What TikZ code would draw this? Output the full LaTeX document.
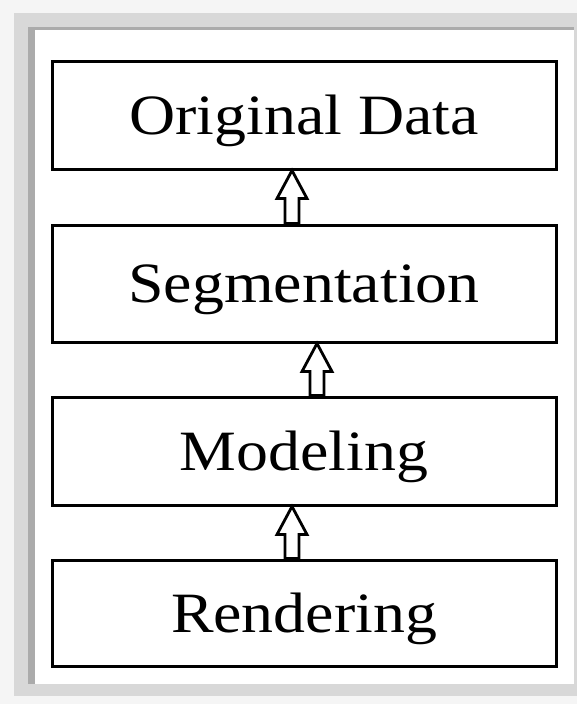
\documentclass[tikz,border=0pt]{standalone}
\usepackage{fontspec}
\setmainfont{Liberation Serif}
\usetikzlibrary{calc}
\definecolor{edgeA}{HTML}{F5F5F5}
\definecolor{edgeB}{HTML}{D8D8D8}
\definecolor{edgeC}{HTML}{ABABAB}
\tikzset{
  stepbox/.style={draw=black, line width=3pt, fill=white, minimum width=504pt,
    inner sep=0pt, text height=38pt, text depth=0pt,
    font=\fontsize{57}{60}\selectfont},
  hollowarrow/.style={draw=black, fill=white, line width=2.8pt, line join=miter}
}
\newcommand{\wtext}[1]{\scalebox{1.12}[1]{#1}}
\begin{document}
\begin{tikzpicture}[x=1pt,y=-1pt]
\useasboundingbox (0,0) rectangle (577,704);
% shadowed page frame
\fill[edgeA] (0,0) rectangle (577,704);
\fill[edgeB] (14,13) rectangle (577,696);
\fill[edgeC] (28,27) rectangle (574,684);
\fill[white] (35,30) rectangle (574,684);
% boxes
\node[stepbox, minimum height=108pt] (b1) at (304,115) {\wtext{Original Data}};
\node[stepbox, minimum height=117pt] (b2) at (304,283.5) {\wtext{Segmentation}};
\node[stepbox, minimum height=108pt] (b3) at (304,451) {\wtext{Modeling}};
\node[stepbox, minimum height=106pt] (b4) at (304,613) {\wtext{Rendering}};
% hollow block arrows (pointing up)
\foreach \lo/\hi/\dx in {b2/b1/-12, b3/b2/13, b4/b3/-12}{
  \coordinate (tip) at ($(\hi.south)+(\dx,0)$);
  \coordinate (bot) at ($(\lo.north)+(\dx,0)$);
  \draw[hollowarrow] ($(bot)+(-7,0)$) -- ($(tip)+(-7,28)$) -- ($(tip)+(-15,28)$)
    -- (tip) -- ($(tip)+(15,28)$) -- ($(tip)+(7,28)$) -- ($(bot)+(7,0)$) -- cycle;
}
\end{tikzpicture}
\end{document}
